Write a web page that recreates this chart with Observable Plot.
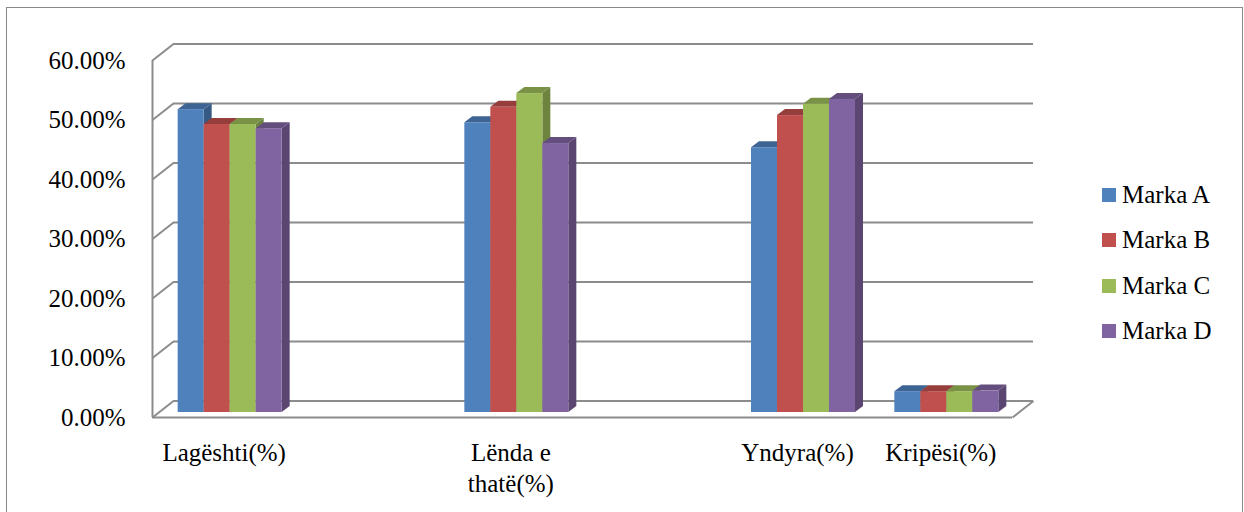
<!DOCTYPE html>
<html><head><meta charset="utf-8">
<script src="https://cdn.jsdelivr.net/npm/d3@7"></script>
<script src="https://cdn.jsdelivr.net/npm/@observablehq/plot@0.6"></script>
<style>
body{margin:0;background:#fff;}
#wrap{position:relative;width:1244px;height:512px;overflow:hidden;font-family:'Liberation Serif','Times New Roman',Tinos,'DejaVu Serif',serif;}
#chart{position:absolute;left:0;top:0;}
#chart svg, #chart svg text{font-family:'Liberation Serif','Times New Roman',Tinos,'DejaVu Serif',serif !important;}
#frame{position:absolute;left:6px;top:7px;width:1237px;height:520px;border:1px solid #8a8a8a;box-sizing:border-box;background:transparent;}
#legend{position:absolute;left:1102px;top:172px;}
.item{display:flex;align-items:center;height:45.5px;font-size:25px;color:#000;}
.sw{width:14px;height:14px;margin-right:6px;flex:none;}
</style></head><body>
<div id="wrap"><div id="chart"></div><div id="frame"></div><div id="legend"></div></div>
<script>
// ---- data ----
const slotOrder = ["Lagështi(%)", "", "Lënda e thatë(%)", "", "Yndyra(%)", "Kripësi(%)"];
const categories = ["Lagështi(%)", "Lënda e thatë(%)", "Yndyra(%)", "Kripësi(%)"];
const categoryLabels = ["Lagështi(%)", "Lënda e\nthatë(%)", "Yndyra(%)", "Kripësi(%)"];
const series = ["Marka A", "Marka B", "Marka C", "Marka D"];
const markaA = [50.9, 48.7, 44.5, 3.5];
const markaB = [48.4, 51.3, 49.9, 3.5];
const markaC = [48.4, 53.6, 51.8, 3.5];
const markaD = [47.7, 45.2, 52.6, 3.6];
const yTicks = [0, 10, 20, 30, 40, 50, 60];
const colors = ["#4f81bd", "#c0504d", "#9bbb59", "#8064a2"];

// ---- layout ----
const W = 1244, H = 512, mL = 152, mR = 232, mT = 60, mB = 95;
const nSlots = slotOrder.length;
const pxX = (W - mL - mR) / nSlots;     // px per slot unit
const pxY = (H - mT - mB) / 60;         // px per percent
const wallDX = 21, wallDY = -16.5;      // depth of walls (px)
const barDX = 8, barDY = -6;            // depth of bars (px)
const barShiftX = 6, barShiftY = -5;    // bars sit inside the box
const groupW = 104 / pxX, barW = groupW / 4;
const dXu = barDX / pxX, dYu = -barDY / pxY;
const wXu = wallDX / pxX, wYu = -wallDY / pxY;
const grid = "#8c8c8c";
const serifFont = "'Liberation Serif','Times New Roman',Tinos,'DejaVu Serif',serif";

const values = [markaA, markaB, markaC, markaD];
const slot = c => slotOrder.indexOf(c);
const rows = [];
series.forEach((s, i) => categories.forEach((c, j) => {
  const x1 = slot(c) - groupW / 2 + i * barW;
  rows.push({s, i, c, id: s + "|" + c, x1, x2: x1 + barW, v: values[i][j]});
}));

const barMarks = [];
series.forEach((s, i) => {
  const rs = rows.filter(r => r.i === i);
  const side = rs.flatMap(r => [
    {id: r.id, x: r.x2, y1: 0, y2: r.v},
    {id: r.id, x: r.x2 + dXu, y1: dYu, y2: r.v + dYu}
  ]);
  const top = rs.flatMap(r => [
    {id: r.id, y: r.v, x1: r.x1, x2: r.x2},
    {id: r.id, y: r.v + dYu, x1: r.x1 + dXu, x2: r.x2 + dXu}
  ]);
  const base = d3.color(colors[i]);
  barMarks.push(
    Plot.areaY(side, {x: "x", y1: "y1", y2: "y2", z: "id", fill: base.darker(1.0).formatHex(), dx: barShiftX, dy: barShiftY}),
    Plot.areaX(top, {y: "y", x1: "x1", x2: "x2", z: "id", fill: base.darker(0.7).formatHex(), dx: barShiftX, dy: barShiftY}),
    Plot.rect(rs, {x1: "x1", x2: "x2", y1: 0, y2: "v", fill: colors[i], dx: barShiftX, dy: barShiftY})
  );
});

const plot = Plot.plot({
  width: W, height: H,
  marginLeft: mL, marginRight: mR, marginTop: mT, marginBottom: mB,
  style: {fontSize: "25px", fontFamily: serifFont, color: "#000", background: "transparent"},
  x: {domain: [-0.5, nSlots - 0.5], axis: null},
  y: {domain: [0, 60], ticks: yTicks, tickFormat: d => d.toFixed(2) + "%", tickSize: 0, tickPadding: 27, label: null},
  marks: [
    // back wall gridlines
    Plot.ruleY(yTicks, {stroke: grid, strokeWidth: 2, dx: wallDX, dy: wallDY}),
    // left wall diagonals
    Plot.link(yTicks, {x1: -0.5, x2: -0.5 + wXu, y1: d => d, y2: d => d + wYu, stroke: grid, strokeWidth: 2}),
    // right floor diagonal
    Plot.link([0], {x1: nSlots - 0.5, x2: nSlots - 0.5 + wXu, y1: 0, y2: wYu, stroke: grid, strokeWidth: 2}),
    // front left edge and front floor edge
    Plot.ruleX([-0.5], {y1: 0, y2: 60, stroke: grid, strokeWidth: 2}),
    Plot.ruleY([0], {stroke: grid, strokeWidth: 2}),
    ...barMarks,
    // category labels
    Plot.text(categories, {x: d => slot(d), y: 0, text: (d, k) => categoryLabels[k], lineAnchor: "top", dy: 21, lineHeight: 1.24, fill: "#000", fontFamily: serifFont})
  ]
});
plot.style.maxWidth = "none";
document.getElementById("chart").appendChild(plot);

const leg = document.getElementById("legend");
series.forEach((s, i) => {
  const it = document.createElement("div");
  it.className = "item";
  const sw = document.createElement("span");
  sw.className = "sw"; sw.style.background = colors[i];
  it.appendChild(sw);
  it.appendChild(document.createTextNode(s));
  leg.appendChild(it);
});
</script>
</body></html>
